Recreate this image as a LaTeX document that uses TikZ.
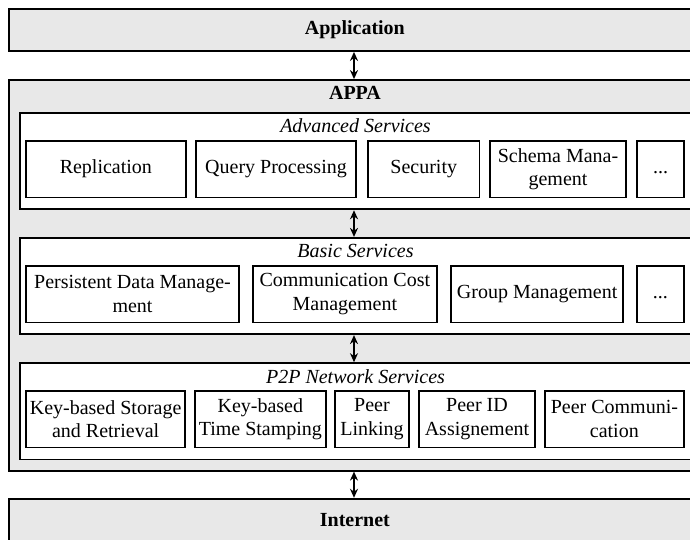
\documentclass[tikz,border=0pt]{standalone}
\usepackage{fontspec}
\setmainfont{Liberation Serif}
\usetikzlibrary{arrows.meta}
\definecolor{boxgray}{RGB}{232,232,232}
\begin{document}
\begin{tikzpicture}[x=0.5pt,y=-0.5pt,
  font=\fontsize{10}{11.7}\selectfont,
  outerbox/.style={draw=black,line width=0.9pt,fill=boxgray,inner sep=0pt,minimum width=346.15pt,font=\fontsize{10}{11.7}\selectfont\bfseries},
  layerbox/.style={draw=black,line width=0.9pt,fill=white,inner sep=0pt,minimum width=335.5pt,minimum height=48.2pt},
  svc/.style={draw=black,line width=0.9pt,fill=white,inner sep=0pt,align=center,minimum height=28.4pt},
  layerlabel/.style={anchor=base,font=\fontsize{10}{11.7}\selectfont\itshape,inner sep=0pt},
  biarrow/.style={line width=0.9pt,{Stealth[length=4.5pt,width=4pt]}-{Stealth[length=4.5pt,width=4pt]}}
]
\useasboundingbox (0,0) rectangle (690,540);
\clip (0,0) rectangle (690,540);

% outer layers
\node[outerbox, minimum height=21pt] (app) at (354.85,30) {Application};
\node[outerbox, minimum height=195.35pt] (appa) at (354.85,275.35) {};
\node[anchor=base,font=\fontsize{10}{11.7}\selectfont\bfseries,inner sep=0pt] (appal) at (355,100) {APPA};
\node[outerbox, minimum height=21.15pt] (inet) at (354.85,519.85) {Internet};

% advanced services
\node[layerbox] (adv) at (355.5,161.15) {};
\node[layerlabel] (advl) at (355.5,132.7) {Advanced Services};
\node[svc, minimum width=79.85pt] (rep) at (105.85,169.1) {Replication};
\node[svc, minimum width=80pt] (qp) at (276,169.1) {Query Processing};
\node[svc, minimum width=55.75pt] (sec) at (423.75,169.1) {Security};
\node[svc, minimum width=68pt] (sch) at (558,169.1) {Schema Mana-\\gement};
\node[svc, minimum width=23.5pt] (adots) at (660.5,169.1) {\vphantom{Ag}...};

% basic services
\node[layerbox] (bas) at (355.5,286) {};
\node[layerlabel] (basl) at (355.5,257.7) {Basic Services};
\node[svc, minimum width=106.5pt] (pdm) at (132.5,294) {Persistent Data Manage-\\ment};
\node[svc, minimum width=91.85pt] (ccm) at (344.85,294) {Communication Cost\\Management};
\node[svc, minimum width=86.15pt] (gm) at (537.15,294) {Group Management};
\node[svc, minimum width=23.65pt] (bdots) at (660.35,294) {\vphantom{Ag}...};

% p2p network services
\node[layerbox] (p2p) at (355.5,411.3) {};
\node[layerlabel] (p2pl) at (355.5,383) {P2P Network Services};
\node[svc, minimum width=79.65pt] (ksr) at (105.65,419.1) {Key-based Storage\\and Retrieval};
\node[svc, minimum width=65.35pt] (kts) at (260.35,419.1) {Key-based\\Time Stamping};
\node[svc, minimum width=37pt] (pl) at (372,419.1) {Peer\\Linking};
\node[svc, minimum width=58pt] (pid) at (477,419.1) {Peer ID\\Assignement};
\node[svc, minimum width=69.65pt] (pc) at (614.35,419.1) {Peer Communi-\\cation};

% connectors
\coordinate (ax) at (354,0);
\draw[biarrow] (app.south -| ax) -- (appa.north -| ax);
\draw[biarrow] (adv.south -| ax) -- (bas.north -| ax);
\draw[biarrow] (bas.south -| ax) -- (p2p.north -| ax);
\draw[biarrow] (appa.south -| ax) -- (inet.north -| ax);
\end{tikzpicture}
\end{document}
